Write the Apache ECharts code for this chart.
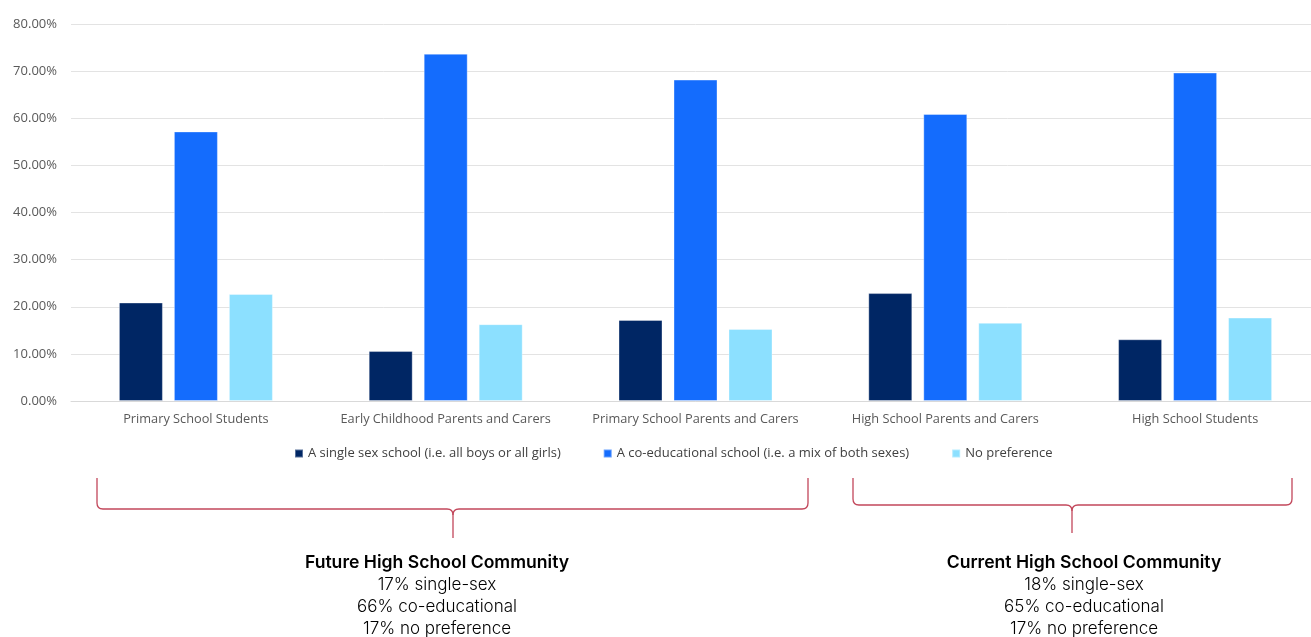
<!DOCTYPE html>
<html>
<head>
<meta charset="utf-8">
<script src="https://cdn.jsdelivr.net/npm/echarts@6/dist/echarts.min.js"></script>
<style>
  html, body { margin: 0; padding: 0; background: #fff; overflow: hidden; }
  #chart { width: 1330px; height: 637px; }
</style>
</head>
<body>
<div id="chart"></div>
<script>
// Survey groups along the x axis
const categories = [
  'Primary School Students',
  'Early Childhood Parents and Carers',
  'Primary School Parents and Carers',
  'High School Parents and Carers',
  'High School Students'
];

// Preference shares (%) for each group
const singleSex = [20.9, 10.6, 17.2, 22.9, 13.1];
const coEducational = [57.2, 73.7, 68.2, 60.9, 69.7];
const noPreference = [22.7, 16.3, 15.3, 16.6, 17.7];

const seriesNames = [
  'A single sex school (i.e. all boys or all girls)',
  'A co-educational school (i.e. a mix of both sexes)',
  'No preference'
];

// Community summaries shown under the brackets
const futureSummary = ['Future High School Community', '17% single-sex', '66% co-educational', '17% no preference'];
const currentSummary = ['Current High School Community', '18% single-sex', '65% co-educational', '17% no preference'];

const colors = ['#002664', '#146CFD', '#8CE0FF'];
const bracketColor = '#C2465A';
const axisFont = '"Open Sans", sans-serif';
const textFont = 'Inter, "Noto Sans", sans-serif';

function summaryText(lines) {
  return '{h|' + lines[0] + '}\n{b|' + lines.slice(1).join('}\n{b|') + '}';
}

// Curly bracket built from straight segments and quadratic corners
function bracket(x1, x2, yTop, yBar, tipX, yTip) {
  const r = 6;
  const style = { stroke: bracketColor, lineWidth: 1.3, fill: null };
  const line = (a, b, c, d) => ({ type: 'line', shape: { x1: a, y1: b, x2: c, y2: d }, style });
  const curve = (a, b, cx, cy, c, d) => ({
    type: 'bezierCurve',
    shape: { x1: a, y1: b, cpx1: cx, cpy1: cy, x2: c, y2: d },
    style
  });
  return [
    line(x1, yTop, x1, yBar - r),
    curve(x1, yBar - r, x1, yBar, x1 + r, yBar),
    line(x1 + r, yBar, tipX - r, yBar),
    curve(tipX - r, yBar, tipX, yBar, tipX, yBar + r),
    curve(tipX + r, yBar, tipX, yBar, tipX, yBar + r),
    line(tipX, yBar + r, tipX, yTip),
    line(tipX + r, yBar, x2 - r, yBar),
    curve(x2 - r, yBar, x2, yBar, x2, yBar - r),
    line(x2, yBar - r, x2, yTop)
  ];
}

const summaryRich = {
  h: { fontFamily: textFont, fontSize: 17.6, fontWeight: 600, color: '#222', lineHeight: 22, align: 'center' },
  b: { fontFamily: textFont, fontSize: 17, fontWeight: 300, color: '#404040', lineHeight: 22, align: 'center' }
};

const chart = echarts.init(document.getElementById('chart'), null, { renderer: 'canvas' });

const barSeries = [singleSex, coEducational, noPreference].map((vals, i) => ({
  name: seriesNames[i],
  type: 'bar',
  data: vals,
  barWidth: 44,
  barGap: '25%',
  itemStyle: { color: colors[i], borderColor: 'rgba(255,255,255,0.35)', borderWidth: 1 }
}));

chart.setOption({
  animation: false,
  color: colors,
  grid: { left: 71, top: 24, width: 1249, height: 377, containLabel: false },
  legend: {
    top: 442,
    left: 289,
    itemWidth: 8,
    itemHeight: 8,
    itemGap: 42,
    icon: 'rect',
    textStyle: { fontFamily: axisFont, fontSize: 13, color: '#404040' },
    data: seriesNames
  },
  xAxis: {
    type: 'category',
    data: categories,
    axisLine: { show: true, lineStyle: { color: '#d9d9d9', width: 1 } },
    axisTick: { show: false },
    axisLabel: { interval: 0, fontFamily: axisFont, fontSize: 12.75, color: '#595959', margin: 12 }
  },
  yAxis: {
    type: 'value',
    min: 0,
    max: 80,
    interval: 10,
    axisLine: { show: false },
    axisTick: { show: false },
    splitLine: { lineStyle: { color: '#e3e3e3', width: 1 } },
    axisLabel: {
      fontFamily: axisFont,
      fontSize: 13,
      color: '#595959',
      margin: 14,
      formatter: v => v.toFixed(2) + '%'
    }
  },
  series: barSeries,
  graphic: [
    ...bracket(97, 808, 478, 509, 453, 538),
    ...bracket(853, 1292, 478, 505, 1072, 533),
    { type: 'text', x: 437, y: 552, style: { text: summaryText(futureSummary), align: 'center', rich: summaryRich } },
    { type: 'text', x: 1084, y: 552, style: { text: summaryText(currentSummary), align: 'center', rich: summaryRich } }
  ]
});
</script>
</body>
</html>
